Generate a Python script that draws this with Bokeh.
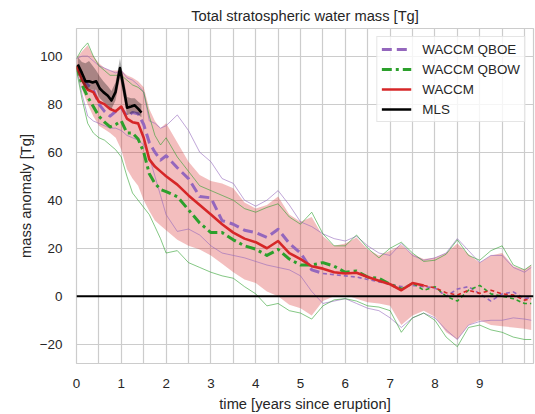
import numpy as np
from bokeh.plotting import figure
from bokeh.models import (Range1d, FixedTicker, CustomJSTickFormatter, Legend,
                          LegendItem, Span)
from bokeh.embed import file_html
from bokeh.resources import INLINE

# ---------------- data ----------------
t = [0, 0.125, 0.25, 0.375, 0.5, 0.625, 0.75, 0.875, 1.0, 1.125, 1.25, 1.375,
     1.5, 1.625, 1.75, 1.875, 2.0, 2.25, 2.5, 2.75, 3.0, 3.25, 3.5, 3.75, 4.0,
     4.25, 4.5, 4.75, 5.0, 5.25, 5.5, 5.75, 6.0, 6.25, 6.5, 6.75, 7.0, 7.25,
     7.5, 7.75, 8.0, 8.25, 8.5, 8.75, 9.0, 9.25, 9.5, 9.75, 10.0, 10.15]

waccm = [96, 90, 86, 85, 81, 80, 78, 77, 79, 74, 72.5, 72, 66, 57, 54, 52, 50,
         46.5, 42, 38, 34, 30, 26.5, 24, 22.5, 20, 23, 18, 15.5, 12.5, 11.5, 10,
         9.5, 9.8, 8, 6.5, 5, 2.5, 5.5, 4.5, 3.5, 1.5, 0.5, 2.5, 1.2, 2.5, 1,
         0.5, -1.6, -1]

qboe = [96, 91, 88, 86, 80, 77, 75, 77, 78.5, 75, 76.5, 76, 71.5, 64, 60, 56.7,
        58.5, 53.5, 49, 41.5, 41, 31.5, 30, 27.5, 26.5, 24.5, 27.9, 22, 18, 11,
        9.5, 9, 8.5, 8, 7, 6, 5, 4, 4.5, 4, 3.5, 0, 3, 4, 1, -2, 1, 1.8, -1, -0.5]

qbow = [96, 88, 83, 79, 75, 72.5, 70.5, 71.5, 73, 68, 68, 65.5, 60, 51, 47,
        44.5, 43.6, 41.5, 36, 30.5, 26.5, 26.5, 23.5, 21, 19.6, 17, 19.5, 15.5,
        13, 13, 14, 12.5, 10, 10.5, 8, 7.5, 5, 3, 5.5, 2.5, 4, 0, -2, 2.5, 4.5,
        1, 0, -1, -3, -3]

band_hi = [99, 102, 104.5, 100, 97, 95, 94, 94, 94, 92, 91, 89.5, 87, 78, 73,
           70, 72, 64, 56, 50.5, 48, 47, 45, 39, 36.5, 38, 41.5, 34, 31, 33, 25,
           21, 22, 24.5, 19.5, 17, 19, 21.5, 17.5, 15.5, 16, 18, 22, 17.5, 14,
           17, 18, 12.5, 11, 13]

band_lo = [94, 86, 80, 75, 71, 69.5, 68, 66, 61, 53, 49, 46, 40, 35.5, 31.5,
           29.5, 27.5, 23.5, 21, 19.5, 17, 13.5, 10, 7, 5.5, 2, 0, -3.5, -5, -8,
           -2, 0, 0.5, -1, -2.5, -3, -4, -12, -8, -6, -8.5, -15, -18, -12, -10,
           -12, -12.5, -13, -13.5, -14]

qbow_max = [99, 103, 105.5, 100, 96, 94, 92, 92, 92, 90, 88, 87, 85, 75, 67,
            63, 66, 58, 52, 46, 44, 42, 40, 36.5, 35, 37, 38.5, 33, 30, 35, 26,
            21, 21, 25.5, 20, 16, 20, 22.5, 18, 14.5, 15, 17.5, 23.5, 17, 15,
            19, 21, 13, 11, 13]

qbow_min = [94, 82, 72, 68, 66, 65, 63, 61, 58, 50, 43, 40, 37, 34, 29, 24, 18,
            19, 14, 12, 10, 8.5, 7.5, 4, 1, -4, -3, -6, -7, -9.5, -4, -1.5, -1,
            -2, -4, -4.5, -6, -15, -9, -7, -10, -17, -21, -13, -12, -14, -15,
            -17, -18, -18]

qboe_max = [99, 100, 100, 98, 96, 95, 94, 93, 94, 91, 90, 88, 85, 73, 72, 70,
            71, 75.5, 69, 60, 56, 49, 47, 40, 37.5, 40, 44, 38, 31, 29, 26, 24,
            23, 25, 21, 18, 17, 22, 17, 15, 16, 18, 24, 19, 14, 17, 17, 12, 10,
            12]

qboe_min = [95, 84, 75, 73, 72, 71, 70, 70, 69, 67, 66, 65, 63, 58, 50, 42, 34,
            27, 28, 25.5, 21, 18, 17, 16, 14.5, 13, 12, 11, 8.5, 2, -3, -2, -1,
            -3, -5, -6, -9, -13, -9, -7, -9, -14, -18, -12, -10.5, -10, -10, -9,
            -9.5, -10]

t_mls = [0.03, 0.12, 0.2, 0.28, 0.36, 0.44, 0.52, 0.6, 0.7, 0.78, 0.87, 0.97,
         1.05, 1.13, 1.22, 1.3, 1.38, 1.45]
mls = [96.5, 93, 89.5, 89.5, 89, 89.5, 86.5, 85, 83.5, 81.5, 85, 95, 87, 78.5,
       79, 79.5, 78, 76.5]
mls_hi = [99.5, 97.5, 97, 98, 96, 94, 91.5, 89.5, 87.5, 85.5, 89, 99, 91, 83,
          82.5, 82.5, 81, 80]
mls_lo = [93.5, 89, 86.5, 86, 86, 86, 82.5, 81, 79.5, 78, 81.5, 91, 83, 75.5,
          76, 76.5, 75.5, 74.5]

x_ticks = [0, 1, 2, 3, 4, 5, 6, 7, 8, 9]
x_grid = [0, 0.5, 1, 1.5, 2, 2.5, 3, 3.5, 4, 4.5, 5, 5.5, 6, 6.5, 7, 7.5, 8,
          8.5, 9, 9.5, 10]
y_ticks = [-20, 0, 20, 40, 60, 80, 100]

# time after which each mean curve is drawn thin and dashed
cut_qboe = 5.5
cut_qbow = 7.25
cut_waccm = 7.75

# ---------------- styling ----------------
PURPLE = "#9467bd"
GREEN = "#2ca02c"
RED = "#d62728"
TXT = "#262626"
GRID = "#cccccc"
FONT = "Liberation Sans"

p = figure(width=535, height=414, output_backend="svg", toolbar_location=None,
           x_range=Range1d(0, 10.2), y_range=Range1d(-28, 111.5),
           title="Total stratospheric water mass [Tg]")
p.min_border_left = 76
p.min_border_right = 2
p.min_border_top = 25
p.min_border_bottom = 50
p.background_fill_color = "white"
p.border_fill_color = "white"
p.outline_line_color = GRID
p.outline_line_width = 1.2

p.title.align = "center"
p.title.text_font = FONT
p.title.text_font_size = "14.7px"
p.title.text_font_style = "normal"
p.title.text_color = TXT
p.title.offset = 0

for ax in (p.xaxis[0], p.yaxis[0]):
    ax.axis_line_color = None
    ax.major_tick_line_color = None
    ax.minor_tick_line_color = None
    ax.major_label_text_font = FONT
    ax.major_label_text_font_size = "13.4px"
    ax.major_label_text_color = TXT
    ax.axis_label_text_font = FONT
    ax.axis_label_text_font_size = "14.7px"
    ax.axis_label_text_font_style = "normal"
    ax.axis_label_text_color = TXT

p.xaxis.ticker = FixedTicker(ticks=x_ticks)
p.yaxis.ticker = FixedTicker(ticks=y_ticks)
p.xaxis.major_label_standoff = 9
p.yaxis.major_label_standoff = 8
p.xaxis.axis_label_standoff = 5
p.yaxis.axis_label_standoff = 3
p.xaxis.axis_label = "time [years since eruption]"
p.yaxis.axis_label = "mass anomaly [Tg]"
p.yaxis.formatter = CustomJSTickFormatter(
    code="return (tick < 0 ? '\u2212' : '') + Math.abs(tick).toFixed(0);")

p.xgrid.ticker = FixedTicker(ticks=x_grid)
p.ygrid.ticker = FixedTicker(ticks=y_ticks)
for g in (p.xgrid[0], p.ygrid[0]):
    g.grid_line_color = GRID
    g.grid_line_width = 1.2

# ---------------- glyphs ----------------
tt = np.array(t)
p.varea(x=t, y1=band_lo, y2=band_hi, fill_color=RED, fill_alpha=0.3)

for arr, col in ((qboe_max, PURPLE), (qboe_min, PURPLE),
                 (qbow_max, GREEN), (qbow_min, GREEN)):
    p.line(t, arr, line_color=col, line_width=0.9, line_alpha=0.65)


def split(vals, cut):
    v = np.array(vals, dtype=float)
    a = tt <= cut
    b = tt >= cut
    return (tt[a], v[a]), (tt[b], v[b])


(qe_a, qe_b) = split(qboe, cut_qboe)
(qw_a, qw_b) = split(qbow, cut_qbow)
(wa_a, wa_b) = split(waccm, cut_waccm)

r_qboe = p.line(qe_a[0], qe_a[1], line_color=PURPLE, line_width=3,
                line_dash="10 5", line_join="round")
p.line(qe_b[0], qe_b[1], line_color=PURPLE, line_width=1.6, line_dash="4 3")
r_qbow = p.line(qw_a[0], qw_a[1], line_color=GREEN, line_width=3,
                line_dash="10 4 3 4", line_join="round")
p.line(qw_b[0], qw_b[1], line_color=GREEN, line_width=1.6, line_dash="4 3")
r_waccm = p.line(wa_a[0], wa_a[1], line_color=RED, line_width=2.6,
                 line_join="round")
p.line(wa_b[0], wa_b[1], line_color=RED, line_width=1.6, line_dash="4 3")

p.varea(x=t_mls, y1=mls_lo, y2=mls_hi, fill_color="black", fill_alpha=0.3)
r_mls = p.line(t_mls, mls, line_color="black", line_width=2.6,
               line_join="round")

p.add_layout(Span(location=0, dimension="width", line_color="black",
                  line_width=2))

legend = Legend(items=[
    LegendItem(label="WACCM QBOE", renderers=[r_qboe]),
    LegendItem(label="WACCM QBOW", renderers=[r_qbow]),
    LegendItem(label="WACCM", renderers=[r_waccm]),
    LegendItem(label="MLS", renderers=[r_mls]),
], location="top_right")
legend.margin = 8
legend.padding = 4
legend.spacing = 4
legend.glyph_width = 30
legend.glyph_height = 16
legend.label_height = 16
legend.label_standoff = 11
legend.label_text_font = FONT
legend.label_text_font_size = "13.4px"
legend.label_text_color = TXT
legend.border_line_color = GRID
legend.border_line_width = 1
legend.background_fill_alpha = 0.8
p.add_layout(legend, "center")

open("out.html", "w").write(file_html(p, INLINE))
